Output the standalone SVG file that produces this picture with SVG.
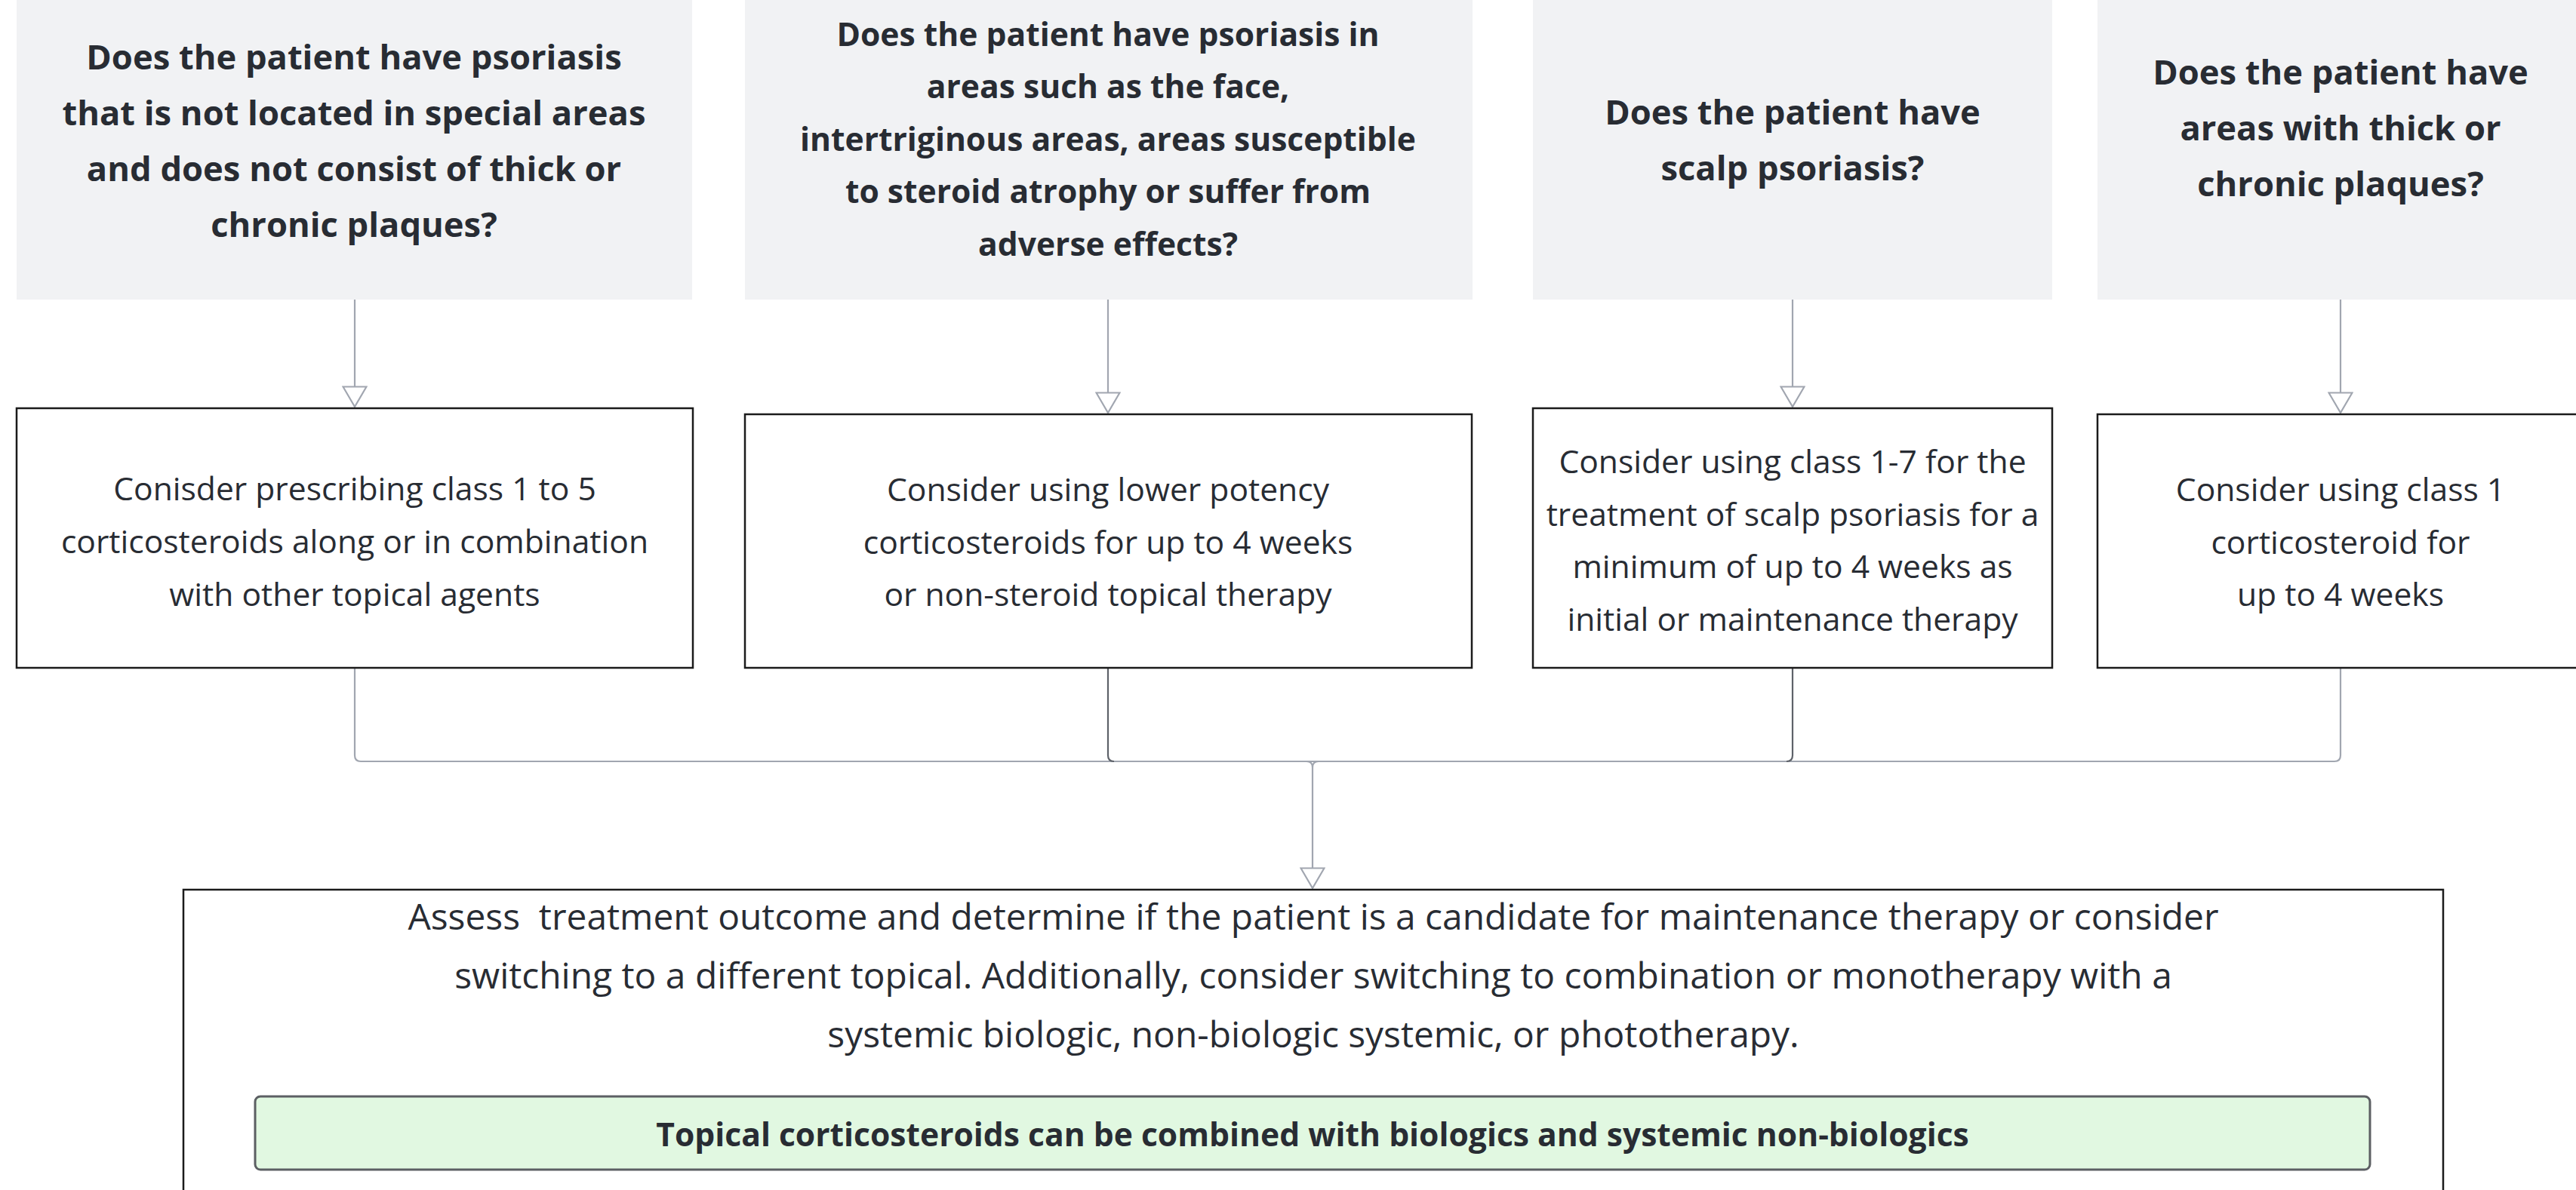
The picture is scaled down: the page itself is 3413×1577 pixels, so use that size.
<svg xmlns="http://www.w3.org/2000/svg" width="3413" height="1577" viewBox="0 0 3413 1577">
<style>
.q{fill:#f1f2f4;stroke:none}
.a{fill:#ffffff;stroke:#1b1b1b;stroke-width:2.5}
.qt{font-family:"Open Sans","Noto Sans","Liberation Sans",sans-serif;font-weight:700;font-size:45.3px;fill:#282c33;text-anchor:middle}
.qs{font-size:42.6px}
.at{font-family:"Open Sans","Noto Sans","Liberation Sans",sans-serif;font-weight:400;font-size:42.6px;fill:#282c33;text-anchor:middle}
.mt{font-family:"Open Sans","Noto Sans","Liberation Sans",sans-serif;font-weight:400;font-size:47.9px;fill:#282c33;text-anchor:middle}
.gt{font-family:"Open Sans","Noto Sans","Liberation Sans",sans-serif;font-weight:700;font-size:42.6px;fill:#282c33;text-anchor:middle}
.c{fill:none;stroke:#a1a6b0;stroke-width:2.2}
.cd{fill:none;stroke:#5e6269;stroke-width:2.2}
</style>
<defs>
<marker id="tri" viewBox="0 0 30 34" refX="28" refY="17" markerWidth="30" markerHeight="34" markerUnits="userSpaceOnUse" orient="auto">
<polygon points="1.5,1.5 28,17 1.5,32.5" fill="#ffffff" stroke="#a1a6b0" stroke-width="2.2" stroke-linejoin="miter"/>
</marker>
</defs>
<rect x="0" y="0" width="3413" height="1577" fill="#ffffff"/>

<g id="connectors">
<path class="c" d="M470,397 V539" marker-end="url(#tri)"/>
<path class="c" d="M1468,397 V547" marker-end="url(#tri)"/>
<path class="c" d="M2375,397 V539" marker-end="url(#tri)"/>
<path class="c" d="M3101,397 V547" marker-end="url(#tri)"/>
<path class="c" d="M470,885 V1001 Q470,1009 478,1009 H1739"/>
<path class="c" d="M3101,885 V1001 Q3101,1009 3093,1009 H1739"/>
<path class="c" d="M1468,1009 H1739"/>
<path class="c" d="M2375,1009 H1739"/>
<path class="cd" d="M1468,885 V1001 Q1468,1009 1476,1009"/>
<path class="cd" d="M2375,885 V1001 Q2375,1009 2367,1009"/>
<path class="c" d="M1731,1009 Q1739,1009 1739,1017 V1177" marker-end="url(#tri)"/>
<path class="c" d="M1747,1009 Q1739,1009 1739,1017"/>
</g>

<g id="q1">
<rect class="q" x="22" y="-10" width="895" height="407"/>
<text class="qt" x="469" y="92">Does the patient have psoriasis</text>
<text class="qt" x="469" y="166">that is not located in special areas</text>
<text class="qt" x="469" y="240">and does not consist of thick or</text>
<text class="qt" x="469" y="314">chronic plaques?</text>
</g>
<g id="q2">
<rect class="q" x="987" y="-10" width="964" height="407"/>
<text class="qt qs" x="1468" y="61">Does the patient have psoriasis in</text>
<text class="qt qs" x="1468" y="130">areas such as the face,</text>
<text class="qt qs" x="1468" y="200">intertriginous areas, areas susceptible</text>
<text class="qt qs" x="1468" y="269">to steroid atrophy or suffer from</text>
<text class="qt qs" x="1468" y="339">adverse effects?</text>
</g>
<g id="q3">
<rect class="q" x="2031" y="-10" width="688" height="407"/>
<text class="qt" x="2375" y="165">Does the patient have</text>
<text class="qt" x="2375" y="239">scalp psoriasis?</text>
</g>
<g id="q4">
<rect class="q" x="2779" y="-10" width="660" height="407"/>
<text class="qt" x="3101" y="112">Does the patient have</text>
<text class="qt" x="3101" y="186">areas with thick or</text>
<text class="qt" x="3101" y="260">chronic plaques?</text>
</g>

<g id="a1">
<rect class="a" x="22" y="541" width="896" height="344"/>
<text class="at" x="470" y="663">Conisder prescribing class 1 to 5</text>
<text class="at" x="470" y="733">corticosteroids along or in combination</text>
<text class="at" x="470" y="803">with other topical agents</text>
</g>
<g id="a2">
<rect class="a" x="987" y="549" width="963" height="336"/>
<text class="at" x="1468" y="664">Consider using lower potency</text>
<text class="at" x="1468" y="734">corticosteroids for up to 4 weeks</text>
<text class="at" x="1468" y="803">or non-steroid topical therapy</text>
</g>
<g id="a3">
<rect class="a" x="2031" y="541" width="688" height="344"/>
<text class="at" x="2375" y="627">Consider using class 1-7 for the</text>
<text class="at" x="2375" y="697">treatment of scalp psoriasis for a</text>
<text class="at" x="2375" y="766">minimum of up to 4 weeks as</text>
<text class="at" x="2375" y="836">initial or maintenance therapy</text>
</g>
<g id="a4">
<rect class="a" x="2779" y="549" width="660" height="336"/>
<text class="at" x="3101" y="664">Consider using class 1</text>
<text class="at" x="3101" y="734">corticosteroid for</text>
<text class="at" x="3101" y="803">up to 4 weeks</text>
</g>

<g id="assess">
<rect class="a" x="243" y="1179" width="2994" height="440"/>
<text class="mt" x="1740" y="1232" xml:space="preserve">Assess  treatment outcome and determine if the patient is a candidate for maintenance therapy or consider</text>
<text class="mt" x="1740" y="1310">switching to a different topical. Additionally, consider switching to combination or monotherapy with a</text>
<text class="mt" x="1740" y="1388">systemic biologic, non-biologic systemic, or phototherapy.</text>
</g>
<g id="note">
<rect x="338" y="1453" width="2802" height="97" rx="7" ry="7" fill="#e1f8e1" stroke="#5c5f63" stroke-width="3"/>
<text class="gt" x="1739" y="1519">Topical corticosteroids can be combined with biologics and systemic non-biologics</text>
</g>
</svg>
